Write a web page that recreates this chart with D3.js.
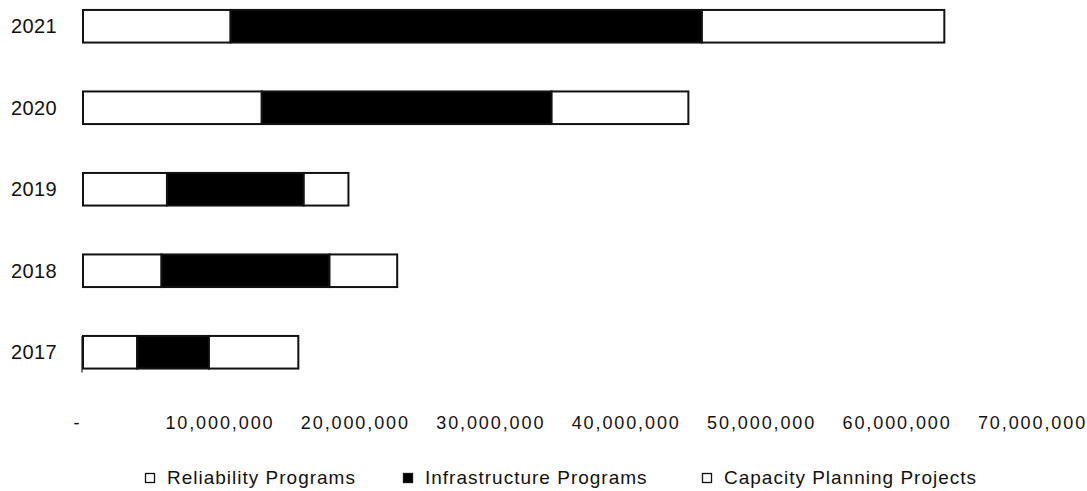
<!DOCTYPE html>
<html>
<head>
<meta charset="utf-8">
<script src="https://cdn.jsdelivr.net/npm/d3@7/dist/d3.min.js"></script>
<style>
  html, body { margin: 0; padding: 0; background: #fff; }
  svg { display: block; }
  text { font-family: "Liberation Sans", Arial, sans-serif; fill: #111; }
</style>
</head>
<body>
<div id="chart"></div>
<script>
// Annual spend by program type (USD)
const years = ["2021", "2020", "2019", "2018", "2017"];
const seriesNames = ["Reliability Programs", "Infrastructure Programs", "Capacity Planning Projects"];
const reliability    = [10900000, 13200000, 6200000, 5800000, 4000000];
const infrastructure = [34800000, 21400000, 10100000, 12400000, 5300000];
const capacity       = [17900000, 10100000, 3300000, 5000000, 6600000];
const xTicks = [0, 10000000, 20000000, 30000000, 40000000, 50000000, 60000000, 70000000];

const fills = ["#ffffff", "#000000", "#ffffff"];

const W = 1087, H = 491;
const svg = d3.select("#chart").append("svg")
  .attr("width", W).attr("height", H);
svg.append("rect").attr("width", W).attr("height", H).attr("fill", "#fff");

const x = d3.scaleLinear().domain([0, 70000000]).range([82, 1030]);
const y = d3.scaleBand().domain(years).range([-14.5, 393])
  .paddingInner(0.6).paddingOuter(0.3);

// stacked rows
const rows = years.map((yr, i) => ({
  year: yr,
  [seriesNames[0]]: reliability[i],
  [seriesNames[1]]: infrastructure[i],
  [seriesNames[2]]: capacity[i]
}));
const stack = d3.stack().keys(seriesNames)(rows);

// short left axis stub under the bottom bar
svg.append("line")
  .attr("x1", x(0)).attr("x2", x(0))
  .attr("y1", y("2017")).attr("y2", y("2017") + y.bandwidth() + 4)
  .attr("stroke", "#222").attr("stroke-width", 1.2);

stack.forEach((layer, k) => {
  svg.append("g").selectAll("rect")
    .data(layer)
    .join("rect")
    .attr("x", d => x(d[0]) + 1)
    .attr("y", d => y(d.data.year))
    .attr("width", d => x(d[1]) - x(d[0]))
    .attr("height", y.bandwidth())
    .attr("fill", fills[k])
    .attr("stroke", "#111")
    .attr("stroke-width", 2);
});

// year labels
svg.append("g").selectAll("text")
  .data(years)
  .join("text")
  .attr("x", 57)
  .attr("y", d => y(d) + y.bandwidth() / 2 + 7)
  .attr("text-anchor", "end")
  .attr("font-size", 20)
  .attr("letter-spacing", 0.4)
  .text(d => d);

// value axis
const xAxis = d3.axisBottom(x)
  .tickValues(xTicks)
  .tickSize(0)
  .tickPadding(0)
  .tickFormat(d => d === 0 ? "-" : d3.format(",")(d));
const gx = svg.append("g").attr("transform", "translate(1,416)").call(xAxis);
gx.select(".domain").remove();
gx.selectAll("text")
  .attr("font-family", "'Liberation Sans', Arial, sans-serif")
  .attr("font-size", 18)
  .attr("letter-spacing", 1.9)
  .attr("fill", "#111")
  .attr("dx", d => d === 0 ? -6 : 1);

// legend
const legendX = [145, 403, 702];
const lg = svg.append("g").selectAll("g")
  .data(seriesNames)
  .join("g")
  .attr("transform", (d, i) => `translate(${legendX[i]},0)`);
lg.append("rect")
  .attr("x", 0.5).attr("y", 473.5)
  .attr("width", 9).attr("height", 9)
  .attr("fill", (d, i) => fills[i])
  .attr("stroke", "#111").attr("stroke-width", 1.3);
lg.append("text")
  .attr("x", 22).attr("y", 484)
  .attr("font-size", 19)
  .attr("letter-spacing", 1)
  .text(d => d);
</script>
</body>
</html>
